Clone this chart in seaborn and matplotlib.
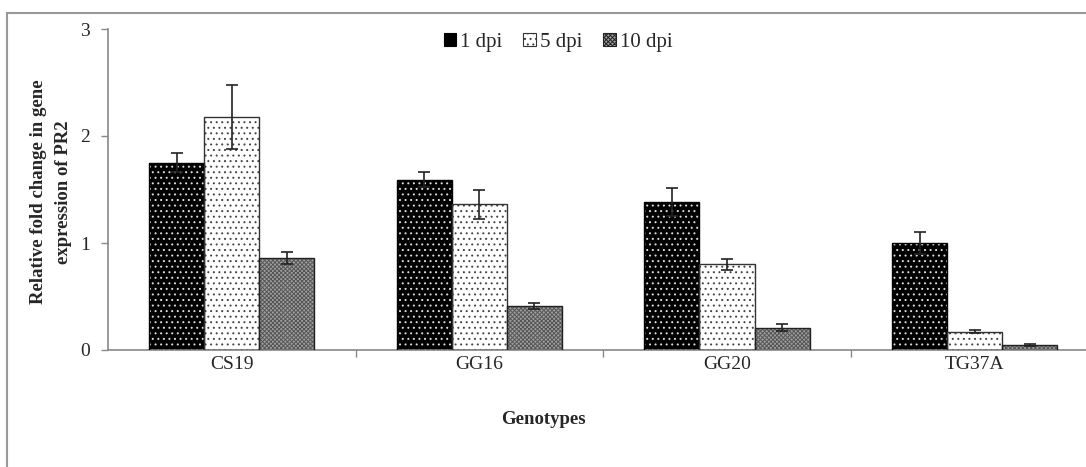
import matplotlib
matplotlib.use("Agg")
import matplotlib.pyplot as plt
import seaborn as sns
import pandas as pd
from matplotlib.patches import Rectangle, Patch

genotypes = ["CS19", "GG16", "GG20", "TG37A"]
series = ["1 dpi", "5 dpi", "10 dpi"]
vals_1dpi = [1.75, 1.59, 1.38, 1.00]
vals_5dpi = [2.18, 1.36, 0.80, 0.17]
vals_10dpi = [0.86, 0.41, 0.21, 0.05]
err_1dpi = [0.09, 0.07, 0.13, 0.10]
err_5dpi = [0.30, 0.14, 0.05, 0.015]
err_10dpi = [0.06, 0.025, 0.035, 0.01]
yticks = [0, 1, 2, 3]

sns.set_theme(style="white")
plt.rcParams["font.family"] = ["Liberation Serif", "DejaVu Serif"]
plt.rcParams["hatch.linewidth"] = 0.7

rows = []
for s, vals in zip(series, [vals_1dpi, vals_5dpi, vals_10dpi]):
    for g, v in zip(genotypes, vals):
        rows.append({"Genotype": g, "Series": s, "Value": v})
df = pd.DataFrame(rows)
errs = {"1 dpi": err_1dpi, "5 dpi": err_5dpi, "10 dpi": err_10dpi}

styles = {
    "1 dpi": dict(face="black", hatch="...", hcol="#dddddd", edge="black"),
    "5 dpi": dict(face="white", hatch="...", hcol="#444444", edge="#333333"),
    "10 dpi": dict(face="#a0a0a0", hatch="xxxxxxxx", hcol="#555555", edge="#222222"),
}

fig = plt.figure(figsize=(10.86, 4.67), dpi=100)
ax = fig.add_axes([108 / 1086, (467 - 350) / 467, 1 - 108 / 1086, (350 - 29) / 467])

sns.barplot(data=df, x="Genotype", y="Value", hue="Series", order=genotypes,
            hue_order=series, width=0.667, gap=0, ax=ax, legend=False,
            palette=["black", "white", "#a0a0a0"], errorbar=None)

for s, cont in zip(series, ax.containers):
    st = styles[s]
    xs, ys = [], []
    for p, v in zip(cont.patches, df[df.Series == s]["Value"]):
        p.set_facecolor(st["face"])
        p.set_hatch(st["hatch"])
        p.set_edgecolor(st["hcol"])
        p.set_linewidth(0)
        outline = Rectangle(p.get_xy(), p.get_width(), p.get_height(),
                            fill=False, edgecolor=st["edge"], linewidth=1.0, zorder=3)
        ax.add_patch(outline)
        xs.append(p.get_x() + p.get_width() / 2)
        ys.append(v)
    ax.errorbar(xs, ys, yerr=errs[s], fmt="none", ecolor="#222222",
                elinewidth=1.2, capsize=4, capthick=1.2, zorder=4)

ax.set_xlim(-0.5, 3.45)
ax.set_ylim(0, 3)
ax.set_yticks(yticks)
ax.set_yticklabels([str(t) for t in yticks], fontsize=14)
ax.set_xticks([0.5, 1.5, 2.5])
ax.set_xticklabels([])
ax.tick_params(axis="x", which="major", direction="out", length=5, width=1,
               color="#888888", bottom=True)
ax.tick_params(axis="y", direction="out", length=5, width=1, color="#888888",
               left=True, pad=8)
for i, g in enumerate(genotypes):
    ax.text(i, -0.14, g, ha="center", va="center", fontsize=14, transform=ax.transData)
ax.set_xlabel("")
ax.set_ylabel("")
for sp in ["top", "right"]:
    ax.spines[sp].set_visible(False)
for sp in ["left", "bottom"]:
    ax.spines[sp].set_color("#888888")
    ax.spines[sp].set_linewidth(1.2)

fig.text(543 / 1086, 1 - 420 / 467, "Genotypes", ha="center", va="center",
         fontsize=13.5, fontweight="bold")
fig.text(39 / 1086, 1 - 192 / 467, "Relative fold change in gene", ha="center",
         va="center", rotation=90, fontsize=13.5, fontweight="bold")
fig.text(63 / 1086, 1 - 192 / 467, "expression of PR2", ha="center",
         va="center", rotation=90, fontsize=13.5, fontweight="bold")

handles = [Patch(facecolor=styles[s]["face"], hatch=styles[s]["hatch"],
                 edgecolor=styles[s]["edge"], linewidth=0.8) for s in series]
fig.legend(handles, series, loc="center", bbox_to_anchor=(0.514, 0.91), ncol=3,
           frameon=False, fontsize=15, handlelength=0.6, handleheight=0.6,
           handletextpad=0.2, columnspacing=1.0)

frame = Rectangle((7 / 1086, -0.1), 2, (467 - 13) / 467 + 0.1, transform=fig.transFigure,
                  fill=False, edgecolor="#999999", linewidth=1.5)
fig.patches.append(frame)

fig.savefig("out.png", dpi=100)
